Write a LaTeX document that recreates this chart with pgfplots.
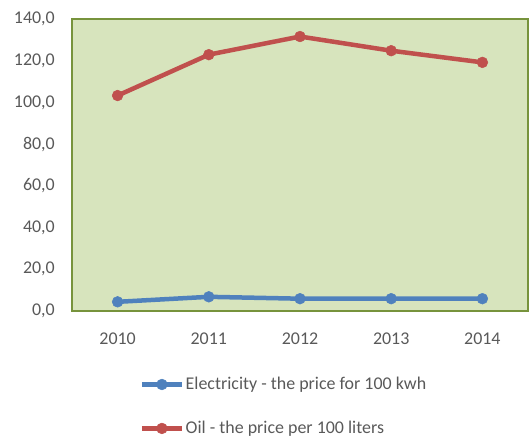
\documentclass[border=0pt]{standalone}
\usepackage{pgfplots}
\pgfplotsset{compat=1.18}
\usepackage{fontspec}
\setmainfont{Carlito}
\definecolor{oilred}{HTML}{C0504D}
\definecolor{elblue}{HTML}{4F81BD}
\definecolor{bgg}{HTML}{D7E4BD}
\definecolor{bord}{HTML}{77933C}
\definecolor{txt}{HTML}{595959}
\begin{document}
\begin{tikzpicture}
\useasboundingbox (-72bp,-131bp) rectangle (458bp,311bp);
\begin{axis}[
  at={(0,0)}, anchor=south west,
  scale only axis, width=456bp, height=292bp,
  xmin=-0.5, xmax=4.5, ymin=0, ymax=140,
  xtick={0,1,2,3,4}, xticklabels={2010,2011,2012,2013,2014},
  ytick={0,20,...,140},
  major tick length=0pt,
  axis background/.style={fill=bgg},
  axis line style={draw=bord, line width=1.8bp},
  /pgf/number format/assume math mode=true,
  tick label style={font=\fontsize{18}{21}\selectfont, text=txt, inner sep=0pt},
  yticklabel style={anchor=east, xshift=-17bp, /pgf/number format/.cd, fixed, fixed zerofill, precision=1, use comma},
  xticklabel style={anchor=base, yshift=-33bp},
  legend style={draw=none, fill=none, at={(axis description cs:0.148,-0.222)}, anchor=north west,
    font=\fontsize{18}{21}\selectfont, text=txt, row sep=27bp, inner sep=0pt,
    nodes={inner sep=1.5bp}},
  legend cell align=left,
  legend image code/.code={\draw[mark repeat=2,mark phase=2,#1] plot coordinates {(0bp,0bp) (20bp,0bp) (40bp,0bp)};},
]
\addplot[color=elblue, line width=4.5bp, mark=*, mark size=5.4bp, mark options={line width=0.5bp}] coordinates {(0,4.4) (1,6.8) (2,5.9) (3,5.9) (4,5.9)};
\addlegendentry{Electricity - the price for 100 kwh}
\addplot[color=oilred, line width=4.5bp, mark=*, mark size=5.4bp, mark options={line width=0.5bp}] coordinates {(0,103.3) (1,122.9) (2,131.6) (3,124.8) (4,119.2)};
\addlegendentry{Oil - the price per 100 liters}
\end{axis}
\end{tikzpicture}
\end{document}
